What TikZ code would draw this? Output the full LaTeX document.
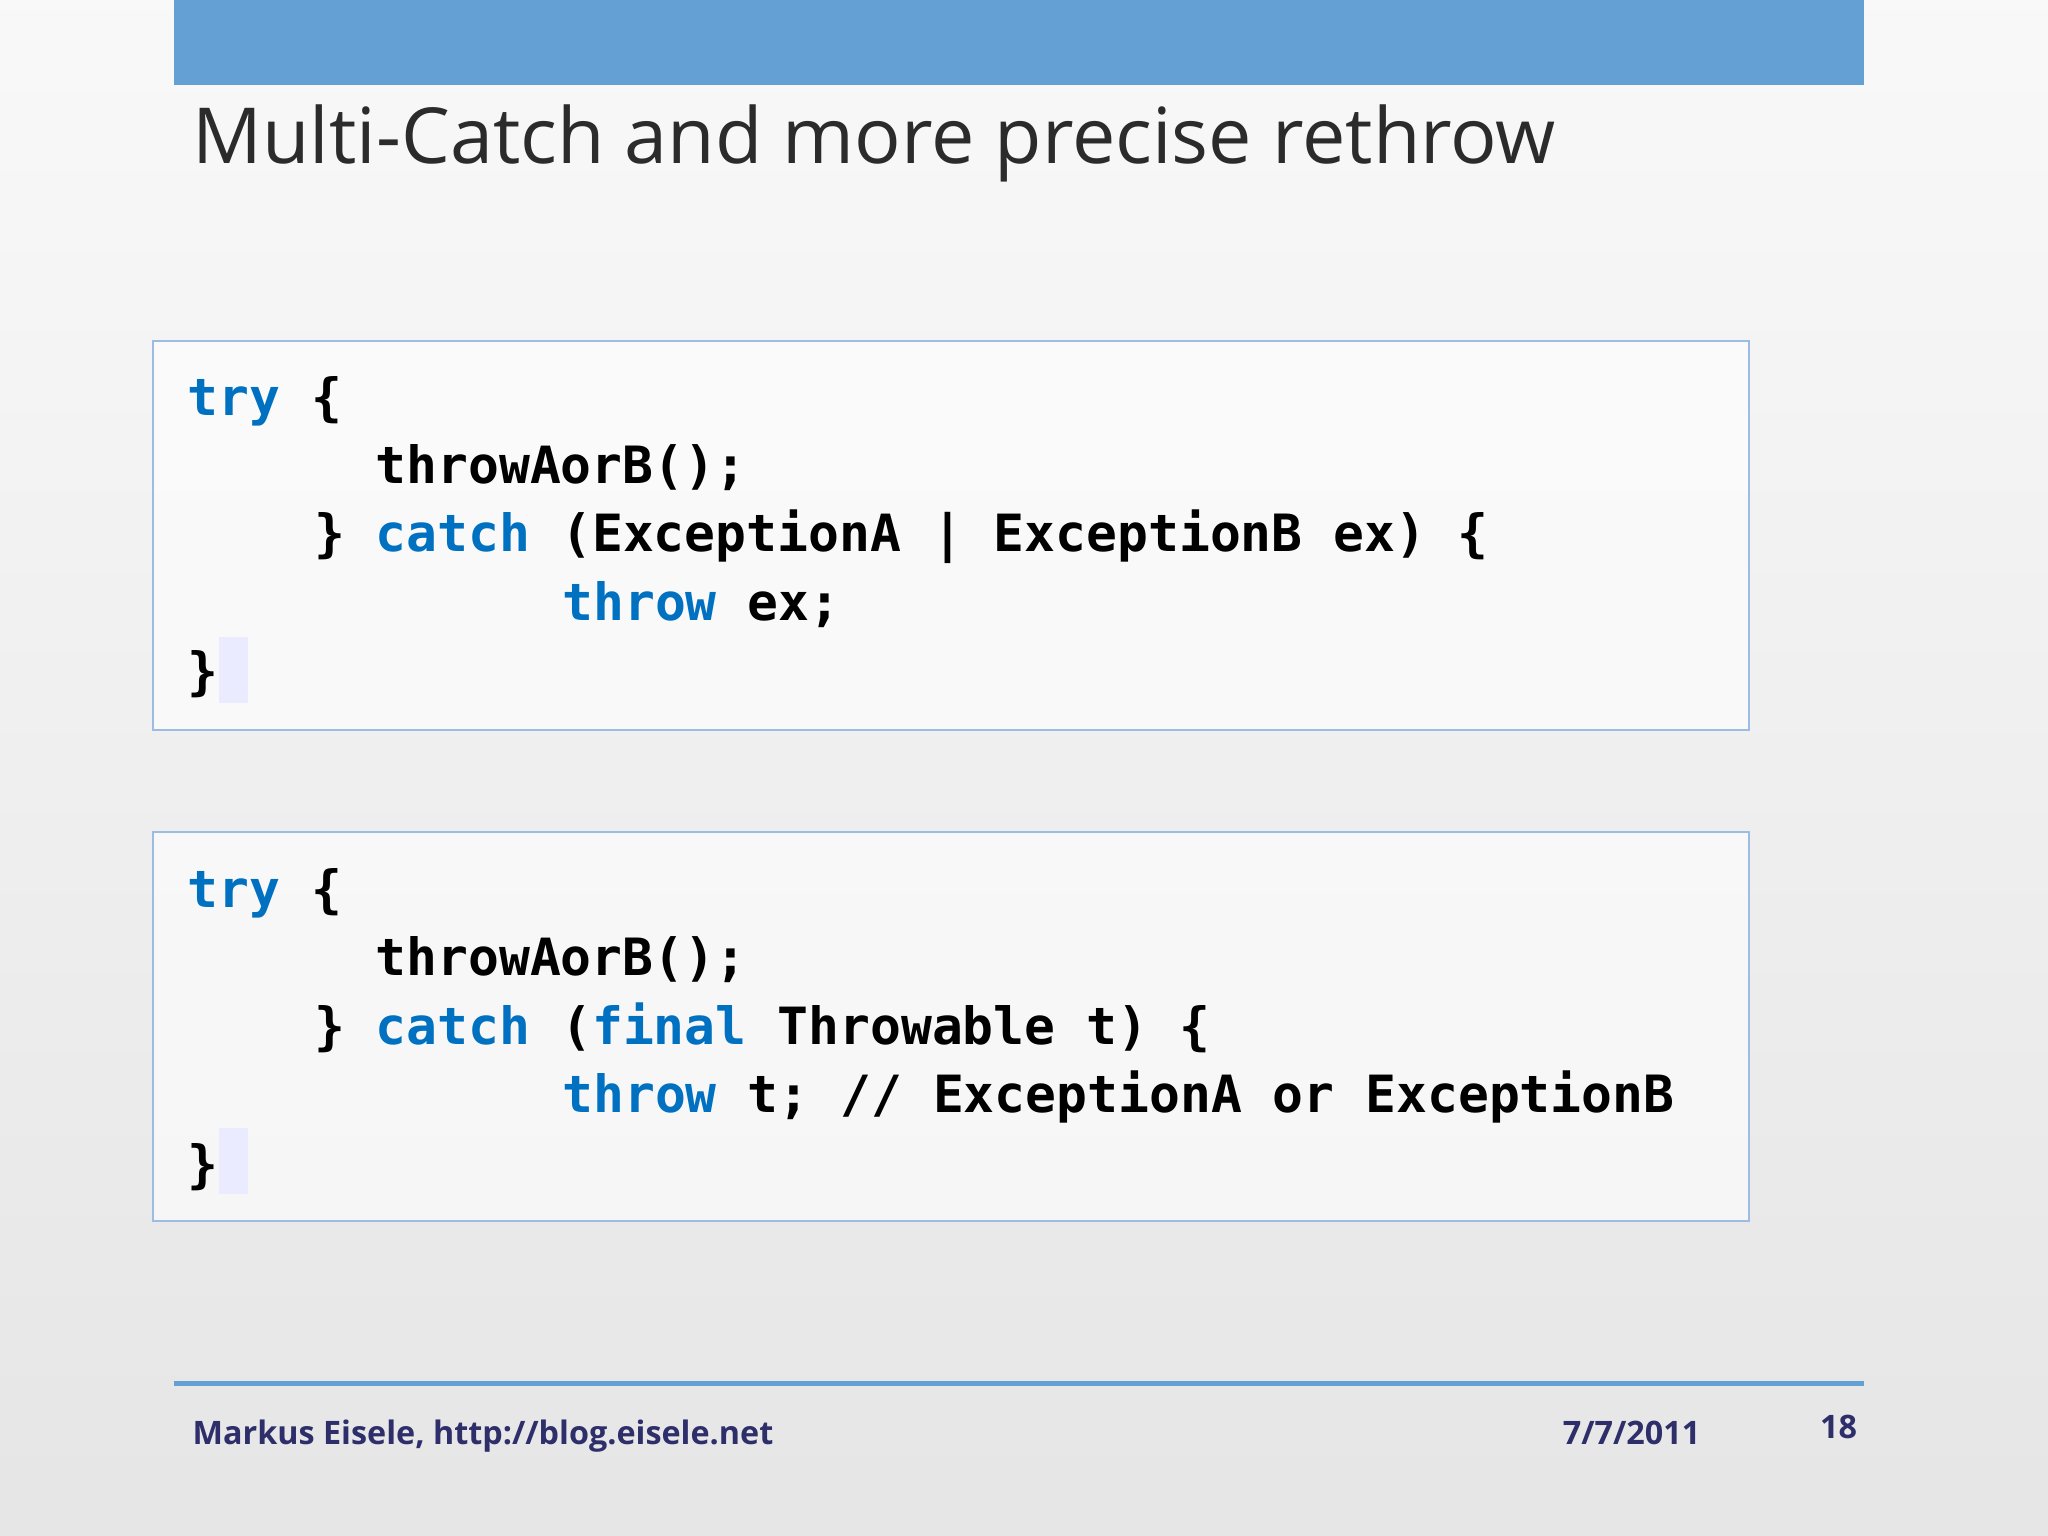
\documentclass[tikz,border=0pt]{standalone}
\usepackage{fontspec}
\setmainfont{Open Sans}
\setmonofont{DejaVu Sans Mono}
\definecolor{barblue}{HTML}{64A0D4}
\definecolor{kw}{HTML}{0070C0}
\definecolor{boxline}{HTML}{9DBCE3}
\definecolor{foot}{HTML}{2E2E6A}
\definecolor{titlec}{HTML}{2B2B2B}
\newcommand{\kwd}[1]{\textcolor{kw}{#1}}
\begin{document}
\begin{tikzpicture}[x=0.013061cm,y=-0.013061cm,
  code/.style={anchor=base west,inner sep=0pt,font=\ttfamily\bfseries\fontsize{14.6}{17}\selectfont},
  codebox/.style={draw=boxline,fill=white,fill opacity=0.6,text opacity=1,line width=0.6pt},
  foottext/.style={anchor=base west,inner sep=0pt,text=foot,font=\bfseries\fontsize{9.2}{11}\selectfont}]
\shade[top color=gray!5,bottom color=gray!20] (0,0) rectangle (1568,1176);
\useasboundingbox (0,0) rectangle (1568,1176);
\fill[barblue] (133,0) rectangle (1427,65);
\node[anchor=base west,inner sep=0pt,text=titlec,font=\fontsize{22}{26}\selectfont] (title) at (147,125) {Multi-Catch and more precise rethrow};
% box 1
\draw[codebox] (117,261) rectangle (1339,559);
\fill[blue!8] (168,488) rectangle (190,538);
\node[code] (a1) at (143,318) {\kwd{try} \{};
\node[code] (a2) at (287,370) {throwAorB();};
\node[code] (a3) at (240,422) {\} \kwd{catch} (ExceptionA | ExceptionB ex) \{};
\node[code] (a4) at (430,475) {\kwd{throw} ex;};
\node[code] (a5) at (143,528) {\}};
% box 2
\draw[codebox] (117,637) rectangle (1339,935);
\fill[blue!8] (168,864) rectangle (190,914);
\node[code] (b1) at (143,695) {\kwd{try} \{};
\node[code] (b2) at (287,747) {throwAorB();};
\node[code] (b3) at (240,800) {\} \kwd{catch} (\kwd{final} Throwable t) \{};
\node[code] (b4) at (430,852) {\kwd{throw} t; // ExceptionA or ExceptionB};
\node[code] (b5) at (143,905) {\}};
% footer
\draw[barblue,line width=1.4pt] (133,1059) -- (1427,1059);
\node[foottext] (f1) at (147,1106) {Markus Eisele, http://blog.eisele.net};
\node[foottext] (f2) at (1196,1106) {7/7/2011};
\node[foottext] (f3) at (1393,1101) {18};
\end{tikzpicture}
\end{document}
